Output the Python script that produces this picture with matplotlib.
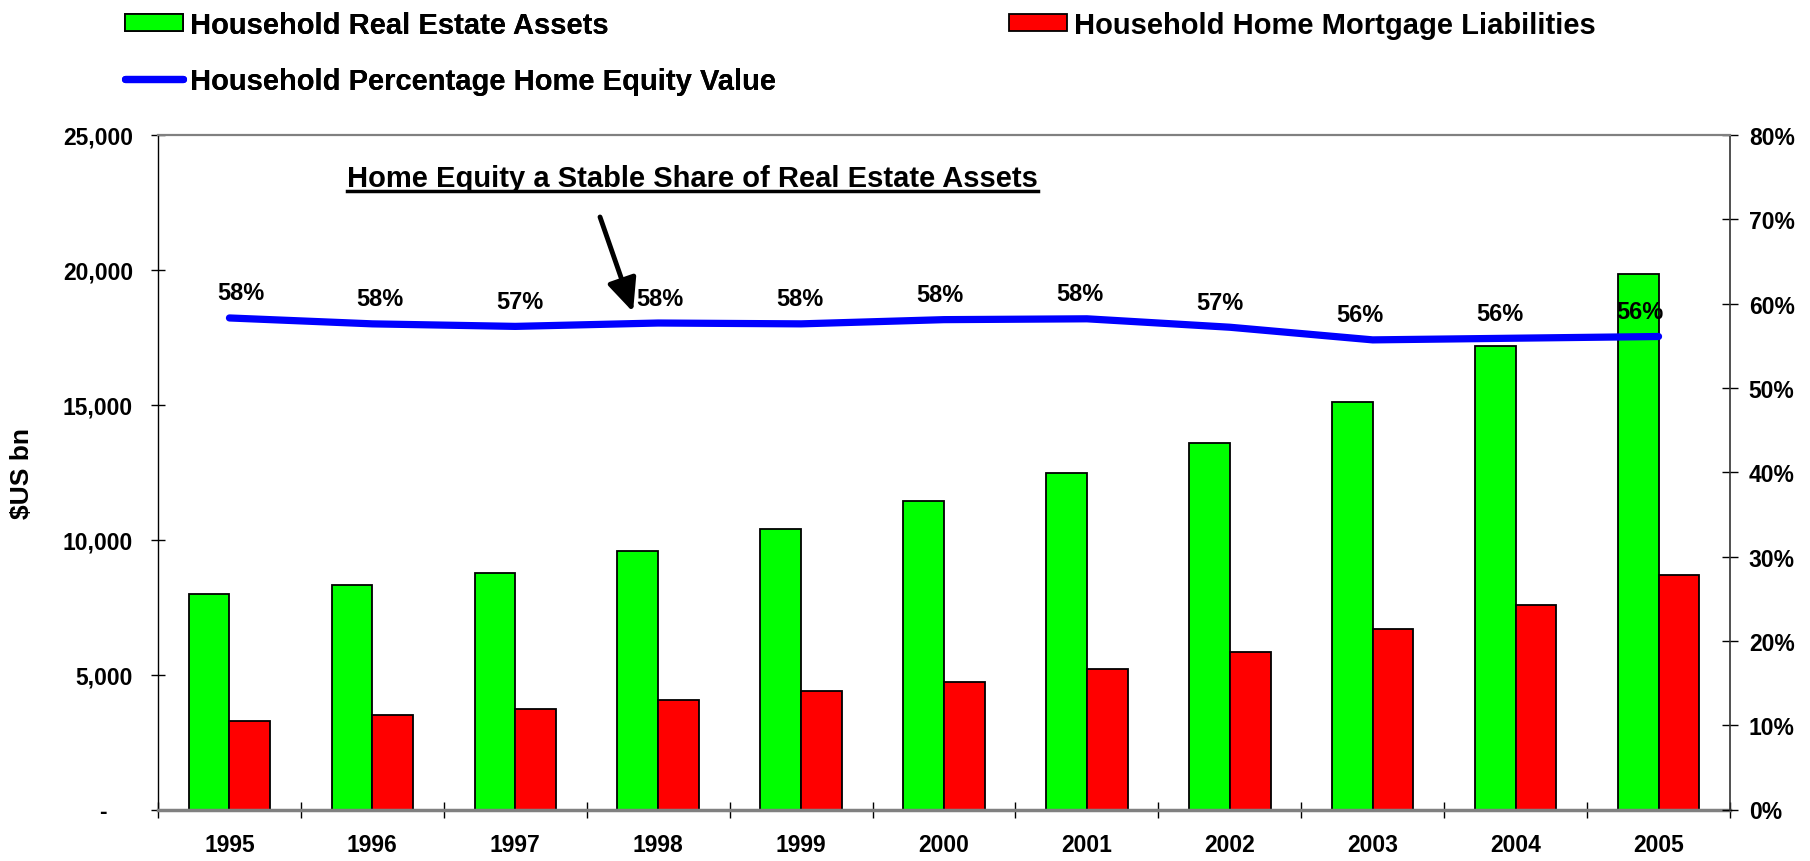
import numpy as np
import matplotlib
matplotlib.use("Agg")
import matplotlib.pyplot as plt
from matplotlib.patches import Patch
from matplotlib.lines import Line2D

plt.rcParams["font.family"] = ["Liberation Sans", "DejaVu Sans"]
plt.rcParams["font.weight"] = "bold"

# values ($US bn and %)
years = ["1995", "1996", "1997", "1998", "1999", "2000",
         "2001", "2002", "2003", "2004", "2005"]
assets = [7990, 8330, 8760, 9580, 10400, 11440, 12470, 13590, 15100, 17180, 19830]
mortgages = [3290, 3500, 3720, 4060, 4400, 4740, 5210, 5840, 6680, 7570, 8680]
equity_pct = [58.3, 57.6, 57.3, 57.7, 57.6, 58.1, 58.2, 57.2, 55.7, 55.9, 56.1]
left_ticks = [0, 5000, 10000, 15000, 20000, 25000]
right_ticks = [0, 10, 20, 30, 40, 50, 60, 70, 80]

W, H = 1810, 862
fig = plt.figure(figsize=(W / 100, H / 100), dpi=100)
ax = fig.add_axes([158 / W, 1 - 810.5 / H, 1572 / W, 674.5 / H])

x = np.arange(len(years))
bw = 0.285
ax.bar(x - bw / 2, assets, bw, color="#00ff00", edgecolor="black", lw=1.3, zorder=2)
ax.bar(x + bw / 2, mortgages, bw, color="#ff0000", edgecolor="black", lw=1.3, zorder=2)
ax.set_xlim(-0.5, len(years) - 0.5)
ax.set_ylim(0, 25000)
ax.set_yticks(left_ticks)
ax.set_yticklabels(["-    "] + [f"{v:,}" for v in left_ticks[1:]], fontsize=16.5)
ax.set_xticks(x)
ax.set_xticklabels(years, fontsize=16.5)
ax.set_xticks(np.arange(-0.5, len(years)), minor=True)
ax.tick_params(axis="x", which="major", length=0, pad=17)
ax.tick_params(axis="x", which="minor", direction="inout", length=11.5, width=1)
ax.tick_params(axis="y", direction="inout", length=10, width=1, pad=13)
ax.set_ylabel("$US bn", fontsize=19, fontweight="bold")
ax.yaxis.set_label_coords(-0.079, 0.5)

ax.spines["left"].set_color("black")
ax.spines["left"].set_linewidth(1.0)
ax.spines["bottom"].set_color("#808080")
ax.spines["bottom"].set_linewidth(2.5)
ax.spines["top"].set_visible(False)
ax.spines["right"].set_visible(False)

ax2 = ax.twinx()
ax2.plot(x, equity_pct, color="#0000ff", lw=5.2, solid_capstyle="round", zorder=3)
ax2.set_ylim(0, 80)
ax2.set_yticks(right_ticks)
ax2.set_yticklabels([f"{v}%" for v in right_ticks], fontsize=16.5)
ax2.tick_params(axis="y", direction="inout", length=11, width=1, pad=8)
ax2.spines["left"].set_visible(False)
ax2.spines["bottom"].set_visible(False)
ax2.spines["top"].set_color("#808080")
ax2.spines["top"].set_linewidth(1.6)
ax2.spines["right"].set_color("#333333")
ax2.spines["right"].set_linewidth(1.2)

# data labels sit a little above the line, drifting left across the chart
for i, v in enumerate(equity_pct):
    ax2.annotate(f"{round(v)}%", (x[i], v), xytext=((11 - 3 * i) * 0.72, 18),
                 textcoords="offset points", ha="center", va="center",
                 fontsize=17, fontweight="bold", zorder=4)

title = ax.text(0.340, 0.936, "Home Equity a Stable Share of Real Estate Assets",
                transform=ax.transAxes, ha="center", va="center",
                fontsize=21, fontweight="bold")
ax.annotate("", xy=(2.824, 18440), xytext=(2.593, 21961),
            arrowprops=dict(arrowstyle="-|>,head_length=1.0,head_width=0.45",
                            lw=3.5, color="black", shrinkA=0, shrinkB=0,
                            mutation_scale=20))

leg1 = fig.legend(handles=[Patch(facecolor="#00ff00", edgecolor="black", lw=1.3),
                           Line2D([], [], color="#0000ff", lw=5.2, solid_capstyle="round")],
                  labels=["Household Real Estate Assets",
                          "Household Percentage Home Equity Value"],
                  loc="upper left", bbox_to_anchor=(125 / W, 1 - 12 / H),
                  frameon=False, fontsize=21, handlelength=2.0,
                  handleheight=0.55, handletextpad=0.22, labelspacing=0.95,
                  borderpad=0, borderaxespad=0)
fig.legend(handles=[Patch(facecolor="#ff0000", edgecolor="black", lw=1.3)],
           labels=["Household Home Mortgage Liabilities"],
           loc="upper left", bbox_to_anchor=(1009 / W, 1 - 12 / H),
           frameon=False, fontsize=21, handlelength=2.0,
           handleheight=0.55, handletextpad=0.22,
           borderpad=0, borderaxespad=0)
fig.add_artist(leg1)

# underline the annotation title
fig.canvas.draw()
bb = title.get_window_extent()
uy = (bb.y0 + 1) / H
fig.add_artist(Line2D([bb.x0 / W, bb.x1 / W], [uy, uy], color="black", lw=2.5))

fig.savefig("out.png", dpi=100)
